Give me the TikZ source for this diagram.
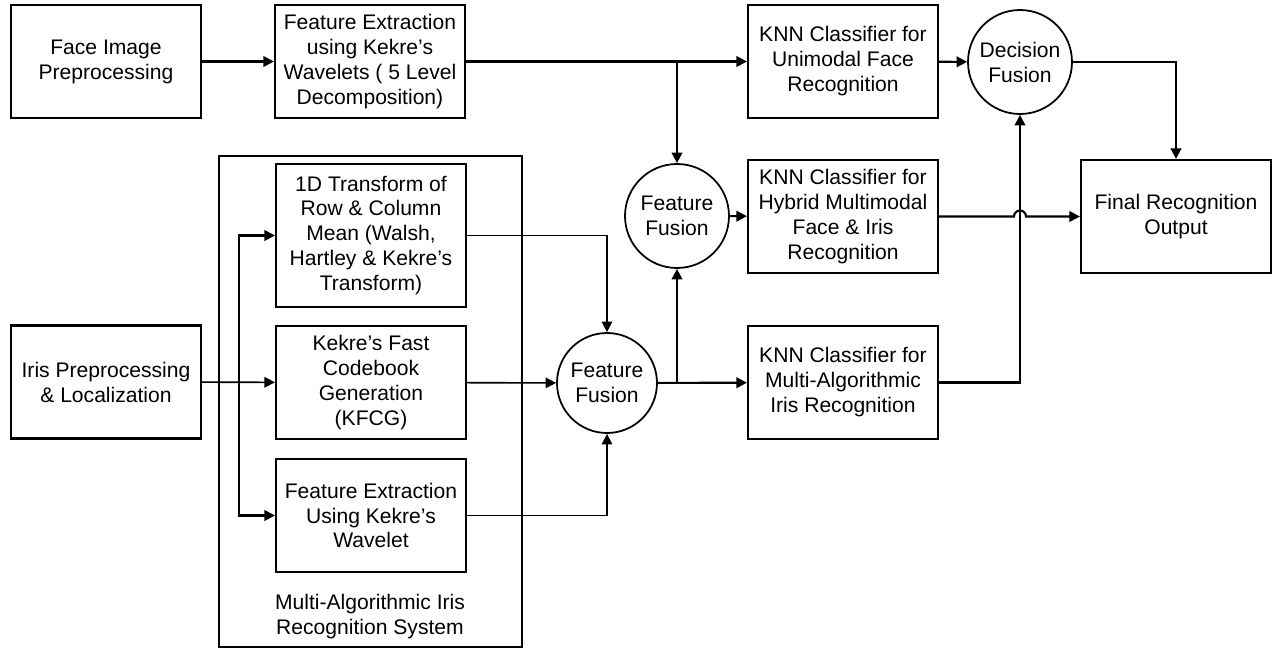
\documentclass[tikz,border=0pt]{standalone}
\usepackage{fontspec}
\setmainfont{Liberation Sans}
\usetikzlibrary{calc, arrows.meta}

\tikzset{
  blk/.style={draw, line width=1.2pt, minimum width=3.8cm, minimum height=2.26cm, inner sep=0pt, align=center},
  fus/.style={draw, circle, line width=1pt, minimum size=2.08cm, inner sep=0pt, align=center},
  con/.style={line width=1.2pt, -{Triangle[length=6pt, width=6pt]}},
  thn/.style={line width=0.9pt, -{Triangle[length=6pt, width=6pt]}}
}

\begin{document}
\begin{tikzpicture}[font=\fontsize{12}{14.2}\selectfont]
            \useasboundingbox (0,0) rectangle (25.56,-13.02);
            \draw[line width=1pt] (4.38,-3.12) rectangle (10.44,-12.94);
            \node[align=center] (sysl) at (7.4,-12.34) {Multi-Algorithmic Iris\\Recognition System};
            \node[blk] (face) at (2.12,-1.23) {Face Image\\Preprocessing};
            \node[blk] (fe) at (7.4,-1.23) {Feature Extraction\\using Kekre’s\\Wavelets ( 5 Level\\Decomposition)};
            \node[blk] (knnu) at (16.86,-1.23) {KNN Classifier for\\Unimodal Face\\Recognition};
            \node[fus] (dec) at (20.4,-1.24) {Decision\\Fusion};
            \node[blk] (final) at (23.52,-4.33) {Final Recognition\\Output};
            \node[blk] (knnh) at (16.86,-4.33) {KNN Classifier for\\Hybrid Multimodal\\Face \& Iris\\Recognition};
            \node[fus] (fusu) at (13.54,-4.32) {Feature\\Fusion};
            \node[blk, minimum height=2.86cm] (oned) at (7.42,-4.71) {1D Transform of\\Row \& Column\\Mean (Walsh,\\Hartley \& Kekre’s\\Transform)};
            \node[blk] (kfcg) at (7.42,-7.65) {Kekre’s Fast\\Codebook\\Generation\\(KFCG)};
            \node[blk] (few) at (7.42,-10.31) {Feature Extraction\\Using Kekre’s\\Wavelet};
            \node[blk] (iris) at (2.12,-7.64) {Iris Preprocessing\\\& Localization};
            \node[fus, minimum size=2cm] (fusl) at (12.14,-7.66) {Feature\\Fusion};
            \node[blk] (knnm) at (16.86,-7.65) {KNN Classifier for\\Multi-Algorithmic\\Iris Recognition};
            \coordinate (bus) at (4.78,-7.65);
            \coordinate (jt) at (fusu |- fe.east);
            \coordinate (jb) at (fusu |- fusl.east);
            \coordinate (hop) at (dec |- knnh.east);
            \draw[con] (face) -- (fe);
            \draw[con] (fe) -- (knnu);
            \draw[con] (jt) -- (fusu);
            \draw[con] (knnu) -- (dec);
            \draw[con] (dec.east) -| (final.north);
            \draw[con] (fusu) -- (knnh);
            \draw[con] (knnh.east) -- ($(hop)+(-0.12,0)$) arc[start angle=180, end angle=0, radius=0.12] -- (final.west);
            \draw[con] (knnm.east) -| (dec.south);
            \draw[con] (fusl) -- (knnm);
            \draw[con] (jb) -- (fusu);
            \draw[thn] (iris) -- (kfcg);
            \draw[con, {Triangle[length=6pt, width=6pt]}-{Triangle[length=6pt, width=6pt]}] (oned.west) -| (bus) |- (few.west);
            \draw[thn] (oned.east) -| (fusl.north);
            \draw[thn] (kfcg) -- (fusl);
            \draw[thn] (few.east) -| (fusl.south);
        \end{tikzpicture}
\end{document}
